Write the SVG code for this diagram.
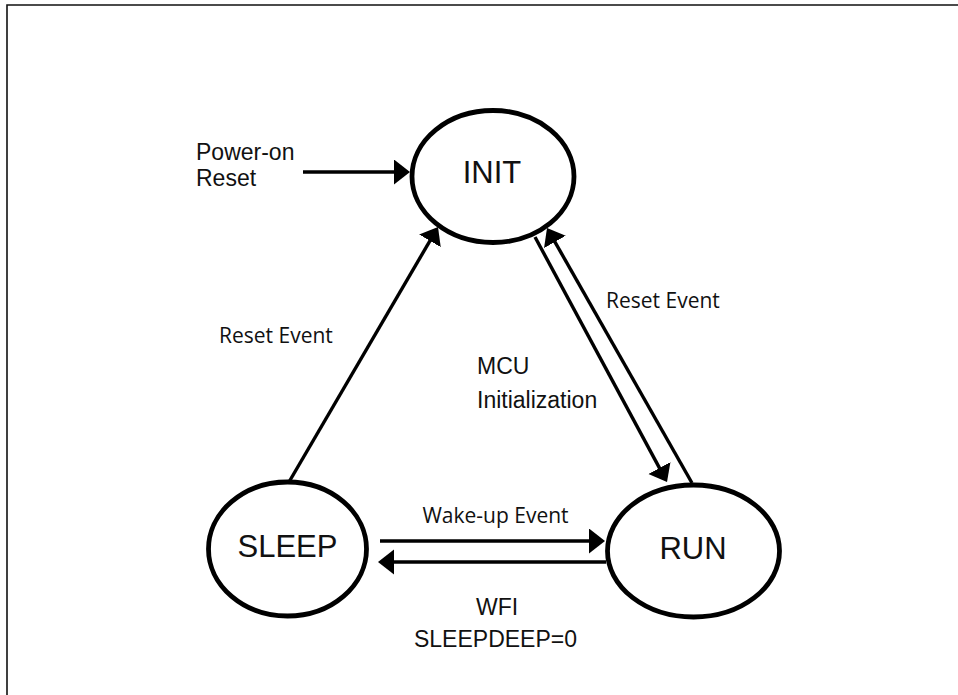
<svg xmlns="http://www.w3.org/2000/svg" width="958" height="695" viewBox="0 0 958 695">
<style>
.frame{fill:none;stroke:#111;stroke-width:1.6}
.state{fill:#fff;stroke:#000;stroke-width:4.8}
.conn{fill:none;stroke:#000;stroke-width:3.4}
.big{font-family:"Liberation Sans",Arial,sans-serif;font-size:31px;fill:#111;text-anchor:middle}
.lbl{font-family:"Liberation Sans",Arial,sans-serif;font-size:23px;fill:#111}
.cal{font-family:"Open Sans","Liberation Sans",sans-serif;font-size:21px;fill:#111}
</style>
<defs>
<marker id="ah" markerUnits="userSpaceOnUse" markerWidth="19" markerHeight="27" refX="13" refY="12.5" orient="auto">
<path d="M0,0 L16,12.5 L0,25 z" fill="#000"/>
</marker>
</defs>
<rect width="958" height="695" fill="#fff"/>
<path class="frame" d="M7,695 V5 H958"/>
<g id="connectors">
<line class="conn" x1="303" y1="172" x2="407" y2="172" marker-end="url(#ah)"/>
<line class="conn" x1="289" y1="482" x2="436.5" y2="229.6" marker-end="url(#ah)"/>
<line class="conn" x1="535" y1="237" x2="665.6" y2="479.4" marker-end="url(#ah)"/>
<line class="conn" x1="692" y1="483" x2="548.5" y2="230.6" marker-end="url(#ah)"/>
<line class="conn" x1="380" y1="541" x2="602" y2="541" marker-end="url(#ah)"/>
<line class="conn" x1="606" y1="562" x2="381" y2="562" marker-end="url(#ah)"/>
</g>
<g id="init">
<ellipse class="state" cx="493" cy="176.5" rx="81" ry="66"/>
<text class="big" x="492" y="183">INIT</text>
</g>
<g id="sleep">
<ellipse class="state" cx="287.5" cy="549" rx="79" ry="67"/>
<text class="big" x="287.5" y="557">SLEEP</text>
</g>
<g id="run">
<ellipse class="state" cx="693.5" cy="551" rx="86" ry="66"/>
<text class="big" x="693" y="559">RUN</text>
</g>
<g id="labels">
<text class="lbl" x="196" y="160">Power-on</text>
<text class="lbl" x="196" y="186">Reset</text>
<text class="cal" x="219" y="343">Reset Event</text>
<text class="cal" x="606" y="308">Reset Event</text>
<text class="lbl" x="477" y="374">MCU</text>
<text class="lbl" x="477" y="408">Initialization</text>
<text class="cal" x="495.5" y="523" text-anchor="middle">Wake-up Event</text>
<text class="lbl" x="497" y="615" text-anchor="middle">WFI</text>
<text class="lbl" x="495.5" y="647" text-anchor="middle">SLEEPDEEP=0</text>
</g>
</svg>
